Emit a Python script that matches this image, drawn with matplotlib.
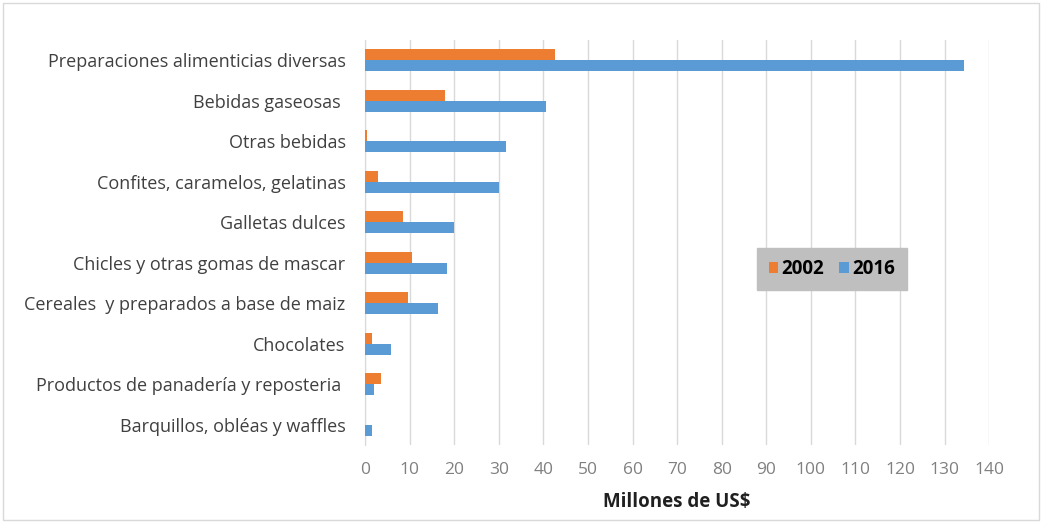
import matplotlib.pyplot as plt
import numpy as np
from matplotlib.patches import Rectangle

plt.rcParams['font.family'] = ['Open Sans', 'DejaVu Sans']

# Data (millones de US$)
categories = ['Preparaciones alimenticias diversas',
              'Bebidas gaseosas ',
              'Otras bebidas',
              'Confites, caramelos, gelatinas',
              'Galletas dulces',
              'Chicles y otras gomas de mascar',
              'Cereales  y preparados a base de maiz',
              'Chocolates',
              'Productos de panadería y reposteria ',
              'Barquillos, obléas y waffles']
v2002 = [42.6, 18.0, 0.5, 2.9, 8.5, 10.5, 9.6, 1.6, 3.6, 0.0]
v2016 = [134.4, 40.6, 31.6, 30.0, 20.0, 18.4, 16.4, 5.8, 2.0, 1.6]
xticks = list(range(0, 141, 10))

fig = plt.figure(figsize=(10.42, 5.23), dpi=100)
ax = fig.add_axes([0.3503, 0.149, 0.599, 0.7745])

y = np.arange(len(categories))
h = 0.275
ax.barh(y - h / 2, v2002, height=h, color='#ED7D31', label='2002', zorder=3)
ax.barh(y + h / 2, v2016, height=h, color='#5B9BD5', label='2016', zorder=3)

ax.set_xlim(0, 140)
ax.set_ylim(len(categories) - 0.5, -0.5)
ax.set_xticks(xticks)
ax.set_yticks(y)
ax.set_yticklabels(categories, fontsize=13, color='#404040')
ax.tick_params(axis='x', length=0, labelsize=12.5, labelcolor='#808080', pad=12)
ax.tick_params(axis='y', length=0, pad=14)
ax.grid(axis='x', color='#d9d9d9', linewidth=1, zorder=0)
for s in ['top', 'right', 'bottom']:
    ax.spines[s].set_visible(False)
ax.spines['left'].set_color('#d9d9d9')

ax.set_xlabel('Millones de US$', fontsize=13.5, fontweight='bold',
              color='#202020', labelpad=10)

leg = ax.legend(loc='center', bbox_to_anchor=(0.7985, 0.486),
                bbox_transform=fig.transFigure, ncol=2, frameon=True,
                fancybox=False, handlelength=0.5, handleheight=0.5,
                handletextpad=0.2, columnspacing=0.8, borderpad=0.6,
                prop={'weight': 'bold', 'size': 13.5})
leg.get_frame().set_facecolor('#bfbfbf')
leg.get_frame().set_edgecolor('#bfbfbf')
leg.get_frame().set_alpha(1)

fig.patches.append(Rectangle((0.003, 0.005), 0.994, 0.99, transform=fig.transFigure,
                             fill=False, edgecolor='#d9d9d9', linewidth=1))

fig.savefig('out.png', dpi=100)
